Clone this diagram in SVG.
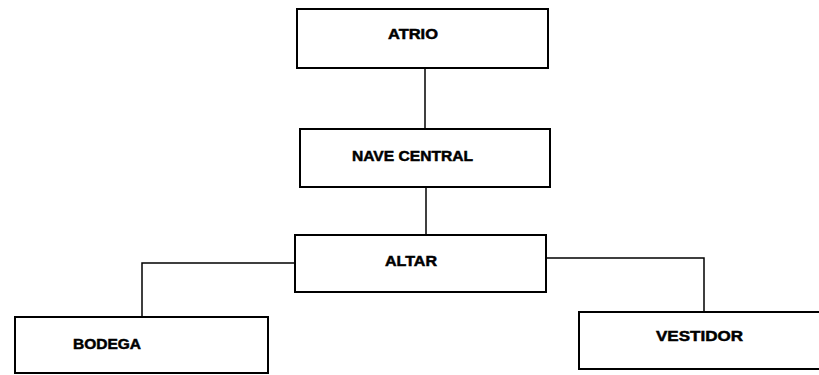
<svg xmlns="http://www.w3.org/2000/svg" width="819" height="375" viewBox="0 0 819 375">
<style>
.box{fill:#fff;stroke:#000;stroke-width:2}
.lbl{font-family:"Liberation Sans",Arial,sans-serif;font-weight:bold;font-size:15px;fill:#000;stroke:#000;stroke-width:0.5}
.conn{fill:none;stroke:#000;stroke-width:1.5}
</style>
<rect width="819" height="375" fill="#fff"/>
<g id="connectors">
<path class="conn" d="M425,68 V130"/>
<path class="conn" d="M426,187 V235"/>
<path class="conn" d="M295,263 H142 V317"/>
<path class="conn" d="M546,258 H704 V312"/>
</g>
<g id="atrio">
<rect class="box" x="297" y="9" width="251" height="59"/>
<text class="lbl" x="388" y="39" textLength="50" lengthAdjust="spacingAndGlyphs">ATRIO</text>
</g>
<g id="nave-central">
<rect class="box" x="300" y="129" width="250" height="58"/>
<text class="lbl" x="352" y="161" textLength="121" lengthAdjust="spacingAndGlyphs">NAVE CENTRAL</text>
</g>
<g id="altar">
<rect class="box" x="295" y="235" width="251" height="57"/>
<text class="lbl" x="385" y="266" textLength="52" lengthAdjust="spacingAndGlyphs">ALTAR</text>
</g>
<g id="bodega">
<rect class="box" x="15" y="317" width="253" height="56"/>
<text class="lbl" x="73" y="349" textLength="68" lengthAdjust="spacingAndGlyphs">BODEGA</text>
</g>
<g id="vestidor">
<rect class="box" x="579" y="312" width="245" height="57"/>
<text class="lbl" x="656" y="341" textLength="87" lengthAdjust="spacingAndGlyphs">VESTIDOR</text>
</g>
</svg>
